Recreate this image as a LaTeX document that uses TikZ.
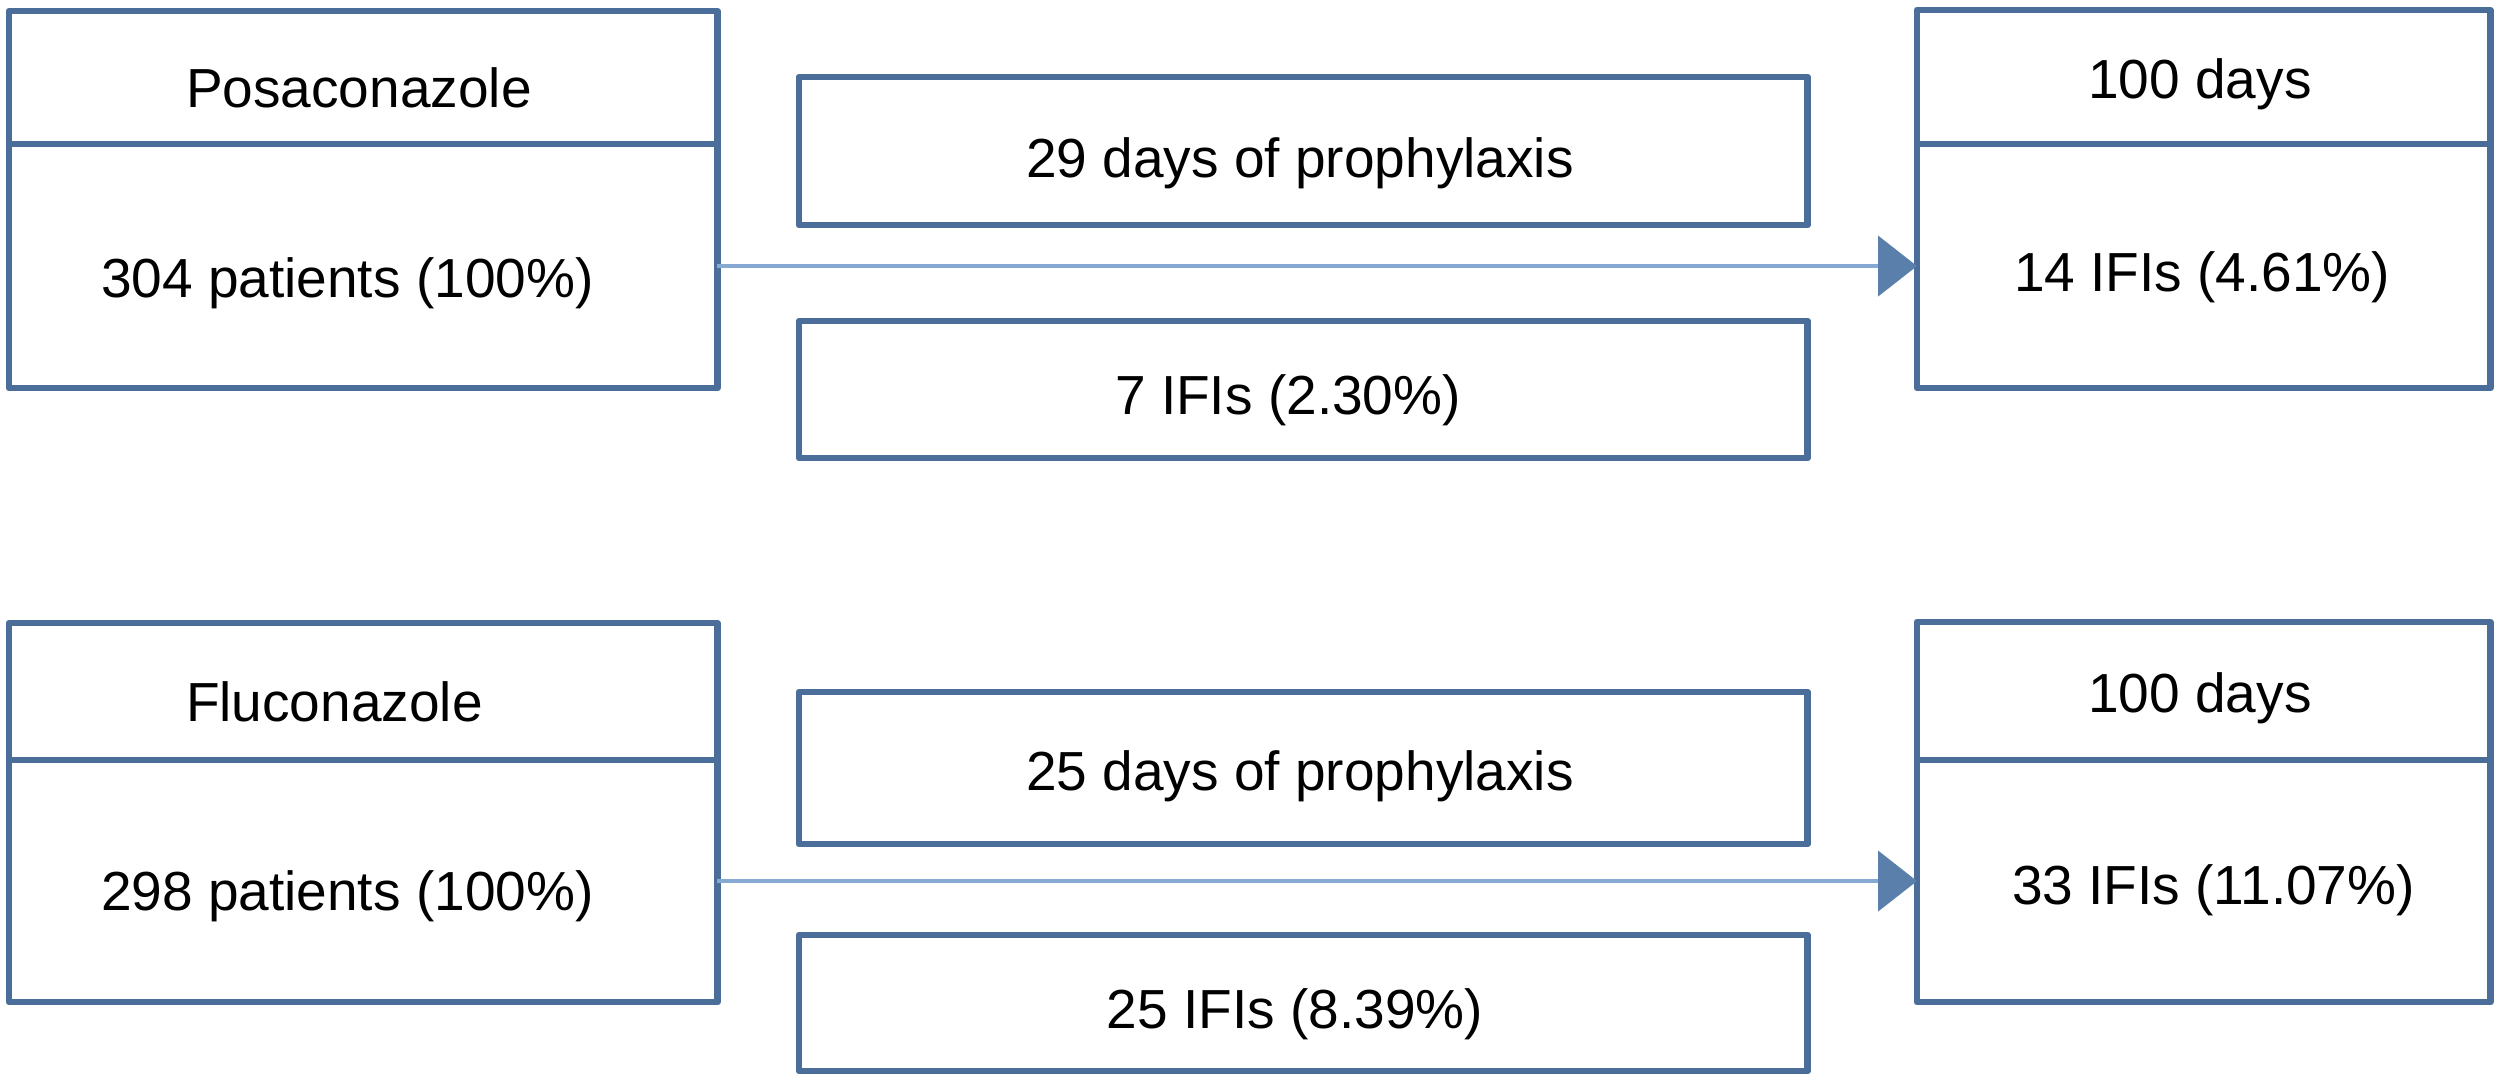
\documentclass[tikz,border=0pt]{standalone}
\usepackage{fontspec}
\setmainfont{Liberation Sans}
\usetikzlibrary{arrows.meta}
\definecolor{boxc}{HTML}{4A6D99}
\definecolor{linec}{HTML}{86A9D3}
\definecolor{tipc}{HTML}{5A7FAA}
\begin{document}
\begin{tikzpicture}[x=0.01cm,y=-0.01cm,
  box/.style={draw=boxc, line width=1.9pt, line join=round, rectangle, inner sep=0pt, outer sep=0pt, anchor=north west},
  lbl/.style={inner sep=0pt, outer sep=0pt, font=\fontsize{15.65}{18}\selectfont},
  conn/.style={draw=linec, line width=1.3pt, -{Triangle[length=0.39cm,width=0.6cm,color=tipc,fill=tipc]}}]
\fill[white] (0,0) rectangle (2500,1080);
\useasboundingbox (0,0) rectangle (2500,1080);
% ---------- top group
\node[box, minimum width=7.08cm, minimum height=1.33cm] (pht) at (9,11) {};
\node[box, minimum width=7.08cm, minimum height=2.44cm] (phb) at (9,144) {};
\node[box, minimum width=10.08cm, minimum height=1.48cm] (pmt) at (799,77) {};
\node[box, minimum width=10.08cm, minimum height=1.37cm] (pmb) at (799,321) {};
\node[box, minimum width=5.73cm, minimum height=1.34cm] (prt) at (1917,10) {};
\node[box, minimum width=5.73cm, minimum height=2.44cm] (prb) at (1917,144) {};
\draw[conn] (phb.east) -- (prb.west);
\node[lbl, anchor=base west] (t1) at (186,108) {Posaconazole};
\node[lbl, anchor=base west] (t2) at (101,298) {304 patients (100\%)};
\node[lbl, anchor=base] (t3) at (1300,178) {29 days of prophylaxis};
\node[lbl, anchor=base] (t4) at (1288,415) {7 IFIs (2.30\%)};
\node[lbl, anchor=base] (t5) at (2200,99) {100 days};
\node[lbl, anchor=base west] (t6) at (2014,292) {14 IFIs (4.61\%)};
% ---------- bottom group
\node[box, minimum width=7.08cm, minimum height=1.37cm] (fht) at (9,623) {};
\node[box, minimum width=7.08cm, minimum height=2.42cm] (fhb) at (9,760) {};
\node[box, minimum width=10.08cm, minimum height=1.52cm] (fmt) at (799,692) {};
\node[box, minimum width=10.08cm, minimum height=1.36cm] (fmb) at (799,935) {};
\node[box, minimum width=5.73cm, minimum height=1.38cm] (frt) at (1917,622) {};
\node[box, minimum width=5.73cm, minimum height=2.42cm] (frb) at (1917,760) {};
\draw[conn] (fhb.east) -- (frb.west);
\node[lbl, anchor=base west] (u1) at (186,722) {Fluconazole};
\node[lbl, anchor=base west] (u2) at (101,911) {298 patients (100\%)};
\node[lbl, anchor=base] (u3) at (1300,791) {25 days of prophylaxis};
\node[lbl, anchor=base] (u4) at (1295,1028) {25 IFIs (8.39\%)};
\node[lbl, anchor=base] (u5) at (2200,713) {100 days};
\node[lbl, anchor=base west] (u6) at (2012,905) {33 IFIs (11.07\%)};
\end{tikzpicture}
\end{document}
